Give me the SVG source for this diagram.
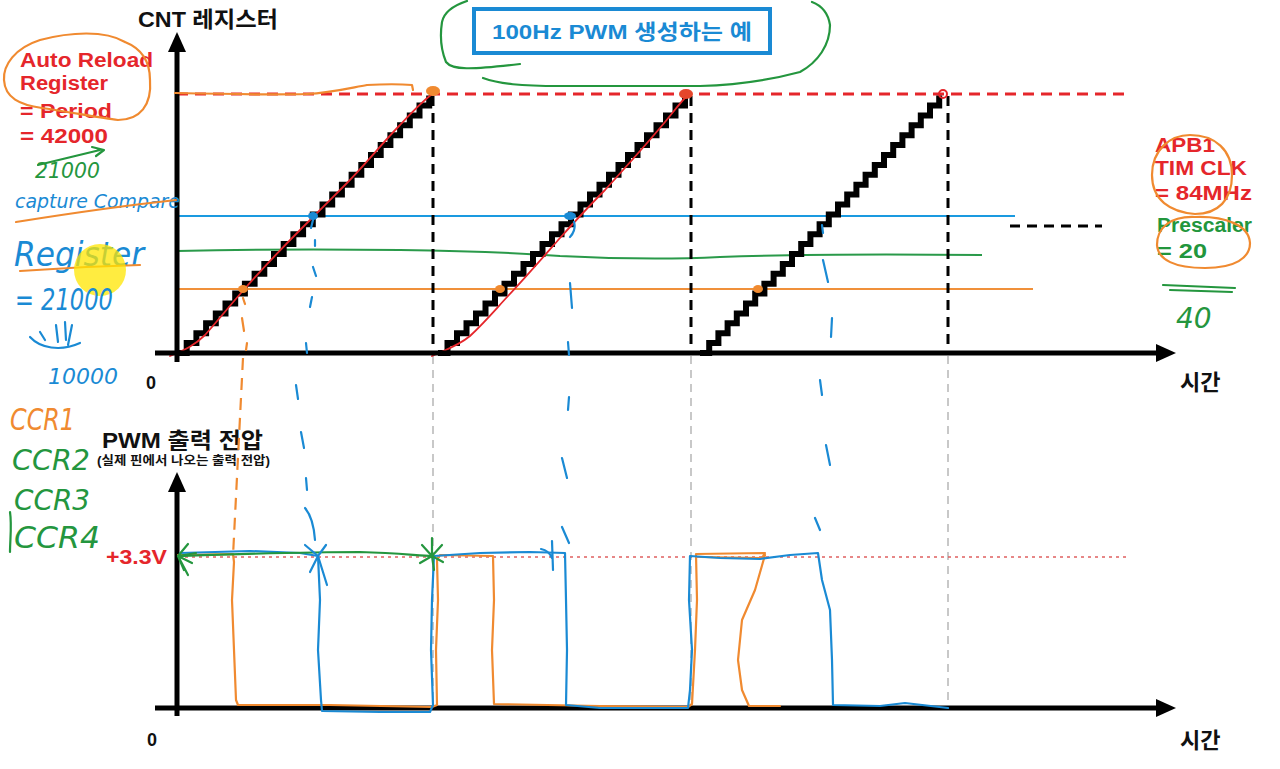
<svg xmlns="http://www.w3.org/2000/svg" width="1280" height="769" viewBox="0 0 1280 769">
<style>
.lbl{font-family:"Liberation Sans","Noto Sans CJK KR",sans-serif;font-weight:bold;fill:#111}
.red{font-family:"Liberation Sans","Noto Sans CJK KR",sans-serif;font-weight:bold;fill:#e5262b;font-size:20px}
.grn{font-family:"Liberation Sans","Noto Sans CJK KR",sans-serif;font-weight:bold;fill:#22963c;font-size:20px}
.hand{font-family:"DejaVu Sans",sans-serif;font-style:italic}
.axis{stroke:#000;stroke-width:5;fill:none}
.stair{stroke:#000;stroke-width:6;fill:none;stroke-linejoin:miter}
.bdash{stroke:#000;stroke-width:3;stroke-dasharray:10 7;fill:none}
.gdash{stroke:#c8c8c8;stroke-width:2;stroke-dasharray:8 6;fill:none}
.ho{stroke:#f08a30;stroke-width:2.2;fill:none;stroke-linecap:round;stroke-linejoin:round}
.hb{stroke:#1a8ad4;stroke-width:2.2;fill:none;stroke-linecap:round;stroke-linejoin:round}
.hg{stroke:#24963e;stroke-width:2.2;fill:none;stroke-linecap:round;stroke-linejoin:round}
.hr{stroke:#e5262b;stroke-width:1.8;fill:none;stroke-linecap:round;stroke-linejoin:round}
</style>
<defs>
<marker id="arr" viewBox="0 0 20 18" refX="2" refY="9" markerWidth="20" markerHeight="18" markerUnits="userSpaceOnUse" orient="auto">
<path d="M0,0 L20,9 L0,18 z" fill="#000"/>
</marker>
</defs>
<rect width="1280" height="769" fill="#fff"/>

<!-- title -->
<g id="title">
<rect x="474" y="9" width="296" height="44" fill="#fff" stroke="#1a8ad4" stroke-width="4"/>
<text x="492" y="39" font-family="Liberation Sans,Noto Sans CJK KR,sans-serif" font-weight="bold" font-size="21" fill="#1a8ad4" textLength="260" lengthAdjust="spacingAndGlyphs">100Hz PWM 생성하는 예</text>
<path class="hg" d="M467,1 C455,5 444,12 442,22 C440,35 441,50 446,62 C452,70 470,70 520,64"/>
<path class="hg" d="M483,78 C500,84 520,86 560,86 L700,86 C740,85 770,80 800,72 C818,62 830,45 830,25 C828,12 820,5 812,2"/>
</g>

<!-- upper plot guide lines -->
<g id="levels">
<path d="M177,94 H1128" stroke="#e5262b" stroke-width="3" stroke-dasharray="11 7" fill="none"/>
<path d="M177,216 H1015" stroke="#1a9ae0" stroke-width="2" fill="none"/>
<path d="M177,251 C260,249 330,249 400,250 C470,251 520,253 560,256 C620,259 680,259 720,257 C800,254 880,254 982,255" stroke="#2a9a4a" stroke-width="2" fill="none"/>
<path d="M177,289 H1033" stroke="#f0903a" stroke-width="2" fill="none"/>
<path d="M1010,226 H1102" class="bdash"/>
<path d="M433,96 V353 M691,96 V353 M948,96 V353" class="bdash"/>
<path d="M433,356 V708 M691,356 V708 M948,356 V708" class="gdash"/>
<path d="M178,557 H1128" stroke="#e06060" stroke-width="1.6" stroke-dasharray="3 4" fill="none"/>
</g>

<!-- staircase counters -->
<g id="ramps">
<path class="stair" d="M177,353 h9.7v-9.9h9.7v-9.9h9.7v-9.9h9.7v-9.9h9.7v-9.9h9.7v-9.9h9.7v-9.9h9.7v-9.9h9.7v-9.9h9.7v-9.9h9.7v-9.9h9.7v-9.9h9.7v-9.9h9.7v-9.9h9.7v-9.9h9.7v-9.9h9.7v-9.9h9.7v-9.9h9.7v-9.9h9.7v-9.9h9.7v-9.9h9.7v-9.9h9.7v-9.9h9.7v-9.9h9.7v-9.9h9.7v-9.9"/>
<path class="stair" d="M438,353 h9.5v-9.9h9.5v-9.9h9.5v-9.9h9.5v-9.9h9.5v-9.9h9.5v-9.9h9.5v-9.9h9.5v-9.9h9.5v-9.9h9.5v-9.9h9.5v-9.9h9.5v-9.9h9.5v-9.9h9.5v-9.9h9.5v-9.9h9.5v-9.9h9.5v-9.9h9.5v-9.9h9.5v-9.9h9.5v-9.9h9.5v-9.9h9.5v-9.9h9.5v-9.9h9.5v-9.9h9.5v-9.9h9.5v-9.9"/>
<path class="stair" d="M700,353 h9.2v-9.9h9.2v-9.9h9.2v-9.9h9.2v-9.9h9.2v-9.9h9.2v-9.9h9.2v-9.9h9.2v-9.9h9.2v-9.9h9.2v-9.9h9.2v-9.9h9.2v-9.9h9.2v-9.9h9.2v-9.9h9.2v-9.9h9.2v-9.9h9.2v-9.9h9.2v-9.9h9.2v-9.9h9.2v-9.9h9.2v-9.9h9.2v-9.9h9.2v-9.9h9.2v-9.9h9.2v-9.9h9.2v-9.9"/>
<path class="hr" d="M170,356 C185,350 195,345 205,335 C220,318 232,303 248,285 C265,266 285,245 300,230 C318,212 330,200 345,185 C365,165 385,140 400,125 C412,112 422,102 432,94"/>
<path class="hr" d="M432,356 C445,350 458,346 470,336 C485,322 495,310 508,296 C525,278 545,255 560,238 C578,218 590,205 605,190 C625,168 650,140 665,122 C675,110 682,100 690,93"/>
</g>

<!-- axes -->
<g id="axes">
<line x1="177" y1="362" x2="177" y2="50" class="axis" marker-end="url(#arr)"/>
<line x1="155" y1="353" x2="1158" y2="353" class="axis" marker-end="url(#arr)"/>
<line x1="177" y1="716" x2="177" y2="490" class="axis" marker-end="url(#arr)"/>
<line x1="155" y1="708" x2="1158" y2="708" class="axis" marker-end="url(#arr)"/>
</g>

<!-- axis labels -->
<g id="labels">
<text x="138" y="27" class="lbl" font-size="22" textLength="140" lengthAdjust="spacingAndGlyphs">CNT 레지스터</text>
<text x="146" y="389" class="lbl" font-size="18">0</text>
<text x="1180" y="390" class="lbl" font-size="22">시간</text>
<text x="102" y="448" class="lbl" font-size="22" textLength="161" lengthAdjust="spacingAndGlyphs">PWM 출력 전압</text>
<text x="97" y="465" class="lbl" font-size="12" textLength="173" lengthAdjust="spacingAndGlyphs">(실제 핀에서 나오는 출력 전압)</text>
<text x="106" y="564" class="red" font-size="21" textLength="61" lengthAdjust="spacingAndGlyphs">+3.3V</text>
<text x="147" y="746" class="lbl" font-size="18">0</text>
<text x="1180" y="748" class="lbl" font-size="22">시간</text>
</g>

<!-- hand marks on upper plot -->
<g id="marks">
<path class="ho" d="M175,93 C220,94 270,95 307,94 C330,93 350,88 367,85 C385,84 400,84 412,85 L413,90"/>
<ellipse cx="433" cy="91" rx="7" ry="5" fill="#f08a30"/>
<ellipse cx="686" cy="94" rx="7" ry="5" fill="#e5462b"/>
<circle cx="943" cy="94" r="4" fill="none" stroke="#e5262b" stroke-width="2"/>
<ellipse cx="243" cy="289" rx="5" ry="4" fill="#f08a30"/>
<ellipse cx="500" cy="289" rx="5" ry="4" fill="#f08a30"/>
<ellipse cx="758" cy="289" rx="5" ry="4" fill="#f08a30"/>
<ellipse cx="313" cy="216" rx="5" ry="4" fill="#1a8ad4"/>
<ellipse cx="570" cy="216" rx="6" ry="4" fill="#1a8ad4"/>
<path class="hb" d="M313,220 L311,228 M315,240 L315,246 M313,267 L316,276 M312,297 L310,307 M306,343 L307,353"/>
<path class="ho" d="M243,298 L245,304 M242,318 L244,331 M247,343 L246,350"/>
<path class="hb" d="M574,222 C576,228 573,234 570,237 M570,283 L572,308 M568,342 L569,355"/>
<path class="hb" d="M822,225 L823,233 M823,260 L828,282 M832,318 L831,337"/>
<path class="hb" d="M296,385 L298,399 M301,432 L304,448 M306,478 L307,490 M305,508 C311,515 314,526 315,540"/>
<path d="M243,358 L233,556" stroke="#f08a30" stroke-width="2.2" stroke-dasharray="12 8" fill="none"/>
<path class="hb" d="M569,397 L568,410 M562,458 L567,478 M562,527 L569,543"/>
<path class="hb" d="M820,380 L822,395 M826,445 L830,465 M815,518 L820,530"/>
</g>

<!-- PWM waveforms -->
<g id="waves">
<path class="ho" d="M178,555 L233,554 L234,562 L232,600 L234,650 L236,700 L238,705 L330,705 L432,707 L437,705 L436,650 L438,600 L437,560 L440,555 L493,556 L494,600 L492,650 L494,704 L600,706 L688,707 L692,704 L695,650 L697,600 L696,554 L765,553 L762,558 L700,557 M765,555 L755,590 L742,620 L738,660 L742,690 L749,706 L780,706"/>
<path class="hb" d="M180,553 L250,551 L300,553 L318,556 L320,600 L318,650 L321,700 L322,711 L380,712 L430,712 L433,705 L431,650 L432,600 L434,556 L480,553 L530,552 L565,553 L566,600 L567,650 L566,705 L600,708 L688,708 L690,690 L692,650 L689,600 L690,556 L720,558 L760,559 L790,555 L818,553 L822,580 L830,610 L832,660 L833,705 L880,706 L905,703 L948,708"/>
<path class="hg" d="M178,556 C240,554 300,552 360,552 C400,553 420,556 432,556"/>
<path class="hg" d="M178,556 L188,544 M178,556 L196,553 M178,556 L192,563 M178,556 L188,575 M178,556 L184,570"/>
<path class="hb" d="M305,545 L318,556 L326,545 M318,556 L310,572 M318,556 L327,585"/>
<path class="hg" d="M432,556 L422,545 M432,556 L432,538 M432,556 L442,545 M432,556 L420,563 M432,556 L443,562 M432,556 L434,570"/>
<path class="hb" d="M541,549 C546,550 550,553 552,558 M552,541 L553,570"/>
</g>

<!-- left annotations -->
<g id="left-notes">
<text x="20" y="67" class="red" textLength="133" lengthAdjust="spacingAndGlyphs">Auto Reload</text>
<text x="20" y="90" class="red" textLength="88" lengthAdjust="spacingAndGlyphs">Register</text>
<text x="20" y="118" class="red" textLength="92" lengthAdjust="spacingAndGlyphs">= Period</text>
<text x="20" y="143" class="red" textLength="88" lengthAdjust="spacingAndGlyphs">= 42000</text>
<path class="ho" d="M125,42 C105,30 70,32 40,40 C15,48 3,65 4,80 C5,98 20,105 42,108 C70,112 100,118 118,120 C140,120 152,105 150,80 C150,60 140,48 125,42"/>
<path class="hg" d="M38,165 L100,150 M92,147 L104,150 L96,156"/>
<text x="35" y="178" class="hand" font-size="22" fill="#24963e" textLength="65" lengthAdjust="spacingAndGlyphs">21000</text>
<text x="15" y="208" class="hand" font-size="19" fill="#1a8ad4" textLength="165" lengthAdjust="spacingAndGlyphs">capture Compare</text>
<path class="ho" d="M16,222 C60,215 120,206 176,200"/>
<text x="14" y="266" class="hand" font-size="34" fill="#1a8ad4" textLength="130" lengthAdjust="spacingAndGlyphs">Register</text>
<path class="ho" d="M20,271 C60,268 100,266 140,265"/>
<circle cx="100" cy="270" r="26" fill="#ffe600" opacity="0.75"/>
<text x="15" y="310" class="hand" font-size="30" fill="#1a8ad4" textLength="98" lengthAdjust="spacingAndGlyphs">= 21000</text>
<path class="hb" d="M40,332 L45,340 M56,325 L58,342 M65,322 L66,340 M30,337 C40,348 60,352 80,343 M68,345 L72,325"/>
<text x="48" y="384" class="hand" font-size="22" fill="#1a8ad4" textLength="70" lengthAdjust="spacingAndGlyphs">10000</text>
<text x="10" y="430" class="hand" font-size="30" fill="#f08a30" textLength="65" lengthAdjust="spacingAndGlyphs">CCR1</text>
<text x="12" y="470" class="hand" font-size="28" fill="#24963e" textLength="78" lengthAdjust="spacingAndGlyphs">CCR2</text>
<text x="14" y="510" class="hand" font-size="28" fill="#24963e" textLength="76" lengthAdjust="spacingAndGlyphs">CCR3</text>
<text x="14" y="548" class="hand" font-size="30" fill="#24963e" textLength="86" lengthAdjust="spacingAndGlyphs">CCR4</text>
<path class="hg" d="M10,512 C12,525 10,540 10,552"/>
</g>

<!-- right annotations -->
<g id="right-notes">
<text x="1155" y="152" class="red" textLength="60" lengthAdjust="spacingAndGlyphs">APB1</text>
<text x="1155" y="175" class="red" textLength="92" lengthAdjust="spacingAndGlyphs">TIM CLK</text>
<text x="1155" y="200" class="red" textLength="97" lengthAdjust="spacingAndGlyphs">= 84MHz</text>
<path class="ho" d="M1190,135 C1170,135 1152,150 1152,175 C1152,200 1170,212 1195,214 C1218,214 1232,200 1232,175 C1232,150 1215,135 1190,135"/>
<text x="1157" y="232" class="grn" textLength="95" lengthAdjust="spacingAndGlyphs">Prescaler</text>
<text x="1157" y="258" class="grn" textLength="50" lengthAdjust="spacingAndGlyphs">= 20</text>
<path class="ho" d="M1195,217 C1170,216 1157,228 1157,245 C1158,260 1175,268 1205,268 C1235,268 1250,258 1250,243 C1249,225 1225,216 1195,217"/>
<path class="hg" d="M1163,285 L1235,288 M1170,290 L1232,292"/>
<text x="1176" y="328" class="hand" font-size="28" fill="#24963e">40</text>
</g>
</svg>
